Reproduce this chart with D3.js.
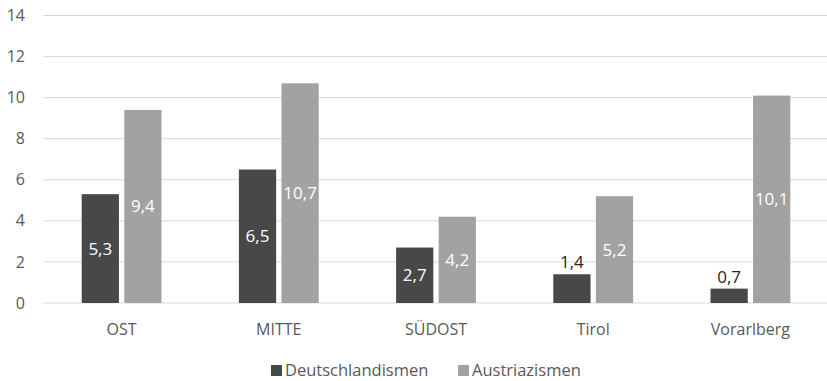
<!DOCTYPE html>
<html><head><meta charset="utf-8">
<script src="https://cdn.jsdelivr.net/npm/d3@7"></script>
<style>
body{margin:0;background:#fff;}
text{font-family:"Open Sans","Noto Sans",sans-serif;}
</style></head><body>
<svg id="c" width="827" height="381"></svg>
<script>
const categories = ["OST","MITTE","SÜDOST","Tirol","Vorarlberg"];
const seriesNames = ["Deutschlandismen","Austriazismen"];
const deutschlandismen = [5.3,6.5,2.7,1.4,0.7];
const austriazismen = [9.4,10.7,4.2,5.2,10.1];
const yTicks = [0,2,4,6,8,10,12,14];
const colors = ["#484848","#a2a2a2"];

(function(){
const svg = d3.select("#c");
const pLeft = 43, pRight = 829, pTop = 15.5, pBottom = 303;
const x = d3.scaleBand().domain(categories).range([pLeft,pRight]).paddingInner(0).paddingOuter(0);
const x1 = d3.scaleBand().domain(seriesNames).range([38.7, x.bandwidth()-38.7]).paddingInner(10/80);
const y = d3.scaleLinear().domain([0,14]).range([pBottom,pTop]);
const fmt = v => String(v).replace(".",",");

// grid
svg.append("g").selectAll("line").data(yTicks).join("line")
  .attr("x1",pLeft).attr("x2",827).attr("y1",d=>y(d)).attr("y2",d=>y(d))
  .attr("stroke","#d9d9d9").attr("stroke-width",1);

// y axis labels
svg.append("g").selectAll("text").data(yTicks).join("text")
  .attr("x",25).attr("y",d=>y(d)).attr("dy","0.35em").attr("text-anchor","end")
  .attr("font-size",16).attr("fill","#595959").text(d=>d);

const data = categories.map((c,i)=>({c, vals:[deutschlandismen[i], austriazismen[i]]}));
const g = svg.append("g").selectAll("g").data(data).join("g")
  .attr("transform",d=>`translate(${x(d.c)},0)`);
const bars = g.selectAll("g").data(d=>d.vals.map((v,j)=>({v,j,s:seriesNames[j]}))).join("g");
bars.append("rect")
  .attr("x",d=>x1(d.s)).attr("width",x1.bandwidth())
  .attr("y",d=>y(d.v)).attr("height",d=>pBottom-y(d.v))
  .attr("fill",d=>colors[d.j]);
bars.append("text")
  .attr("x",d=>x1(d.s)+x1.bandwidth()/2)
  .attr("y",d=> d.v < 2 ? Math.min(y(d.v)-6, pBottom-15) : (y(d.v)+pBottom)/2)
  .attr("dy", d=> d.v < 2 ? "0" : "0.35em")
  .attr("text-anchor","middle").attr("font-size",17)
  .attr("fill",d=> d.v < 2 ? "#262626" : "#ffffff")
  .text(d=>fmt(d.v));

// x labels
svg.append("g").selectAll("text").data(categories).join("text")
  .attr("x",d=>x(d)+x.bandwidth()/2).attr("y",329).attr("dy","0.35em")
  .attr("text-anchor","middle").attr("font-size",16).attr("fill","#595959").text(d=>d);

// legend
const leg = [{n:seriesNames[0],x:271},{n:seriesNames[1],x:458}];
const lg = svg.append("g").selectAll("g").data(leg).join("g");
lg.append("rect").attr("x",d=>d.x).attr("y",365).attr("width",11).attr("height",11)
  .attr("fill",(d,i)=>colors[i]);
lg.append("text").attr("x",d=>d.x+14).attr("y",370.5).attr("dy","0.35em")
  .attr("font-size",16.5).attr("fill","#595959").text(d=>d.n);
})();
</script></body></html>
